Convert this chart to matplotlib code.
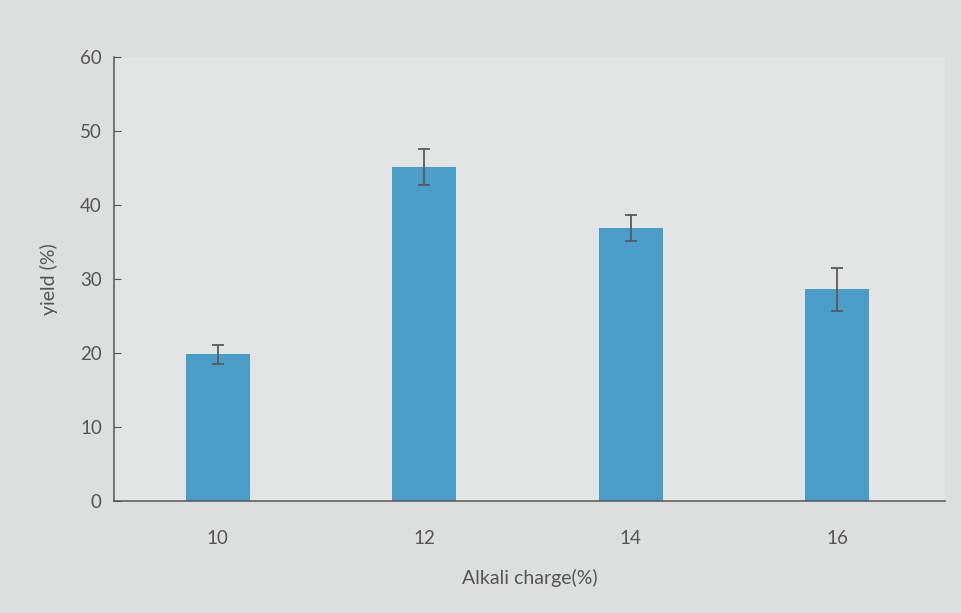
import matplotlib.pyplot as plt

# alkali charge vs yield, with standard deviation bars
charges = ['10', '12', '14', '16']
yields = [19.8, 45.1, 36.9, 28.6]
errors = [1.3, 2.4, 1.8, 2.9]

plt.rcParams['font.family'] = ['Lato', 'DejaVu Sans']

fig = plt.figure(figsize=(9.61, 6.13), dpi=100)
fig.patch.set_facecolor('#dcdfdd')
ax = fig.add_axes([0.119, 0.183, 0.864, 0.724])
ax.set_facecolor('#e3e5e4')

x = range(len(charges))
ax.bar(x, yields, width=0.31, color='#4a9dc9', zorder=2)
ax.errorbar(x, yields, yerr=errors, fmt='none', ecolor='#5a5a5a',
            elinewidth=1.3, capsize=4.5, capthick=1.3, zorder=3)

ax.set_xlim(-0.5, 3.52)
ax.set_ylim(0, 60)
ax.set_yticks(range(0, 61, 10))
ax.set_xticks(list(x))
ax.set_xticklabels(charges)

for s in ['top', 'right']:
    ax.spines[s].set_visible(False)
for s in ['left', 'bottom']:
    ax.spines[s].set_color('#555555')
    ax.spines[s].set_linewidth(1.1)

ax.tick_params(axis='y', direction='in', length=5, color='#555555',
               labelsize=13.5, labelcolor='#555555', pad=9)
ax.tick_params(axis='x', length=0, labelsize=13.5, labelcolor='#555555', pad=21)

ax.set_xlabel('Alkali charge(%)', fontsize=14, color='#555555', labelpad=16)
ax.set_ylabel('yield (%)', fontsize=14, color='#555555', labelpad=16)

fig.savefig('out.png', dpi=100, facecolor=fig.get_facecolor())
